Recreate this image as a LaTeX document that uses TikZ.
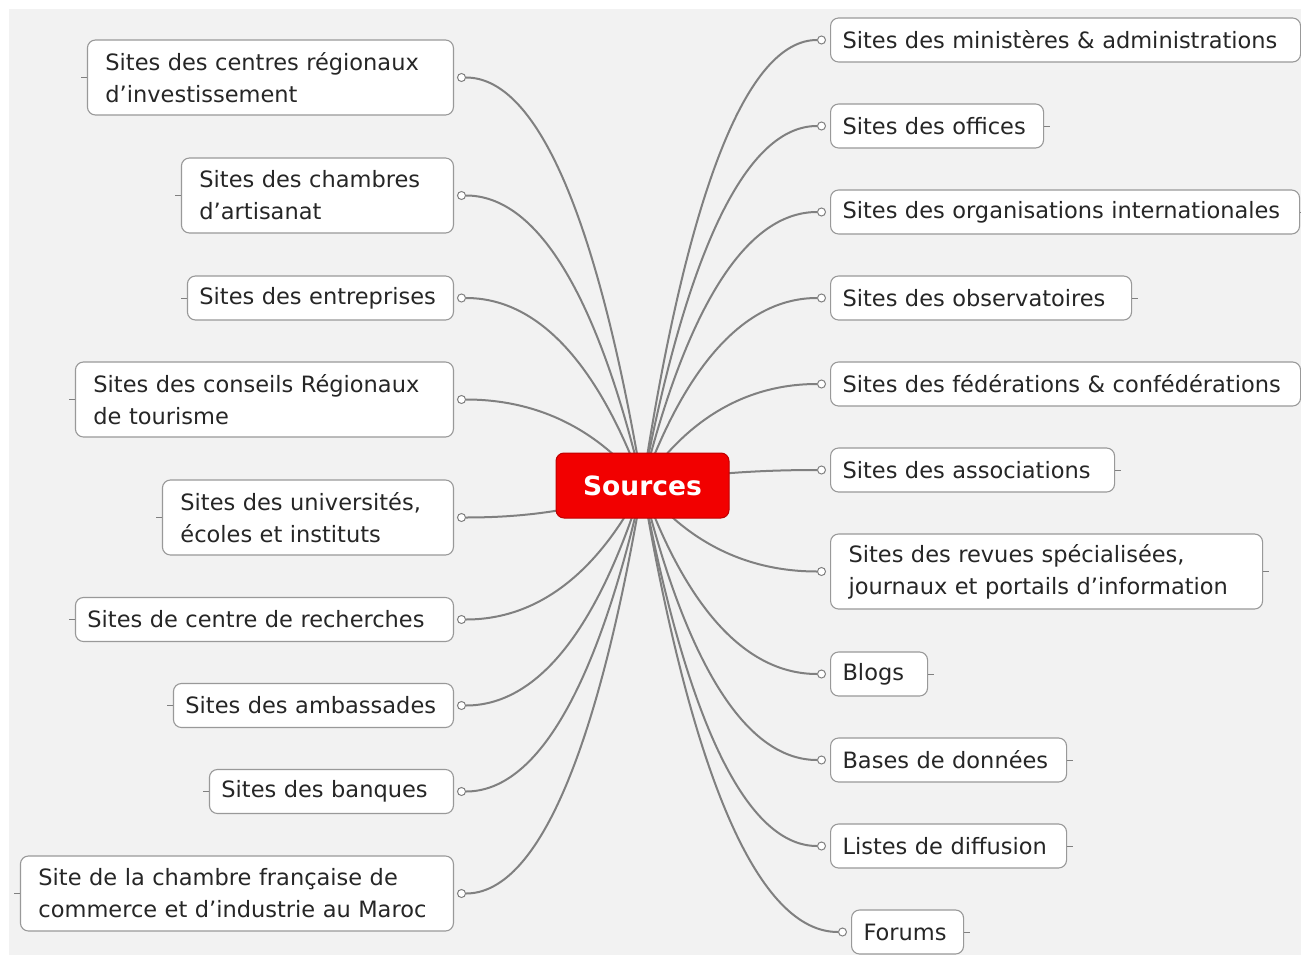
\documentclass[tikz,border=0pt]{standalone}
\usepackage{fontspec}
\setmainfont{DejaVu Sans}
\usetikzlibrary{positioning,calc,backgrounds}

\begin{document}
\begin{tikzpicture}[x=1pt,y=-1pt]
\tikzstyle{topic}=[rectangle, rounded corners=8pt, draw=black!40, fill=white, line width=1.1pt, inner xsep=12pt, inner ysep=0pt, minimum height=44pt, align=left, text=black!85, font=\fontsize{22.5}{32}\selectfont]
\tikzstyle{topictwo}=[topic, inner xsep=18pt, minimum height=75pt]
\tikzstyle{knob}=[circle, draw=black!50, fill=white, line width=1pt, inner sep=0pt, minimum size=8pt]
\tikzstyle{tick}=[draw=black!50, line width=0.8pt]
\tikzstyle{connect}=[draw=black!50, line width=2pt, to path={.. controls ($(\tikztostart)!0.667!(\tikztostart |- \tikztotarget) + 0.253*(\tikztotarget) - 0.253*(\tikztostart |- \tikztotarget)$) and ($(\tikztotarget)!0.413!(\tikztostart |- \tikztotarget)$) .. (\tikztotarget)}]

\useasboundingbox (0,0) rectangle (1301,955);

  \node[rectangle, rounded corners=8pt, fill=red!95!black, draw=red!75!black, line width=1pt, minimum width=173pt, minimum height=65pt, text=white, font=\fontsize{26.5}{30}\selectfont\bfseries] (src) at (642.5,485.5) {Sources};

  % left side
  \node[topictwo, anchor=east, text width=330pt] (l1) at (454,77.5) {Sites des centres régionaux\\d'investissement};
  \node[topictwo, anchor=east, text width=236pt] (l2) at (454,195.5) {Sites des chambres\\d'artisanat};
  \node[topic, anchor=east, text width=242pt] (l3) at (454,298) {Sites des entreprises};
  \node[topictwo, anchor=east, text width=342pt] (l4) at (454,399.5) {Sites des conseils Régionaux\\de tourisme};
  \node[topictwo, anchor=east, text width=255pt] (l5) at (454,517.5) {Sites des universités,\\écoles et instituts};
  \node[topic, anchor=east, text width=354pt] (l6) at (454,619.5) {Sites de centre de recherches};
  \node[topic, anchor=east, text width=256pt] (l7) at (454,705.5) {Sites des ambassades};
  \node[topic, anchor=east, text width=220pt] (l8) at (454,791.5) {Sites des banques};
  \node[topictwo, anchor=east, text width=397pt] (l9) at (454,893.5) {Site de la chambre française de\\commerce et d’industrie au Maroc};

  % right side
  \node[topic, anchor=west, text width=446pt] (r1) at (830,40) {Sites des ministères \& administrations};
  \node[topic, anchor=west, text width=189pt] (r2) at (830,126) {Sites des offices};
  \node[topic, anchor=west, text width=445pt] (r3) at (830,212) {Sites des organisations internationales};
  \node[topic, anchor=west, text width=277pt] (r4) at (830,298) {Sites des observatoires};
  \node[topic, anchor=west, text width=446pt] (r5) at (830,384) {Sites des fédérations \& confédérations};
  \node[topic, anchor=west, text width=260pt] (r6) at (830,470) {Sites des associations};
  \node[topictwo, anchor=west, text width=396pt] (r7) at (830,571.5) {Sites des revues spécialisées,\\journaux et portails d'information};
  \node[topic, anchor=west, text width=73pt] (r8) at (830,674) {Blogs};
  \node[topic, anchor=west, text width=212pt] (r9) at (830,760) {Bases de données};
  \node[topic, anchor=west, text width=212pt] (r10) at (830,846) {Listes de diffusion};
  \node[topic, anchor=west, text width=88pt] (r11) at (851,932) {Forums};

  % knobs
  \node[knob, right=3pt of l1] (cl1) {};
  \node[knob, right=3pt of l2] (cl2) {};
  \node[knob, right=3pt of l3] (cl3) {};
  \node[knob, right=3pt of l4] (cl4) {};
  \node[knob, right=3pt of l5] (cl5) {};
  \node[knob, right=3pt of l6] (cl6) {};
  \node[knob, right=3pt of l7] (cl7) {};
  \node[knob, right=3pt of l8] (cl8) {};
  \node[knob, right=3pt of l9] (cl9) {};
  \node[knob, left=4pt of r1] (cr1) {};
  \node[knob, left=4pt of r2] (cr2) {};
  \node[knob, left=4pt of r3] (cr3) {};
  \node[knob, left=4pt of r4] (cr4) {};
  \node[knob, left=4pt of r5] (cr5) {};
  \node[knob, left=4pt of r6] (cr6) {};
  \node[knob, left=4pt of r7] (cr7) {};
  \node[knob, left=4pt of r8] (cr8) {};
  \node[knob, left=4pt of r9] (cr9) {};
  \node[knob, left=4pt of r10] (cr10) {};
  \node[knob, left=4pt of r11] (cr11) {};

  % ticks
  \foreach \n in {l1,l2,l3,l4,l5,l6,l7,l8,l9}
    \draw[tick] (\n.west) -- ++(-6,0);
  \foreach \n in {r1,r2,r3,r4,r5,r6,r7,r8,r9,r10,r11}
    \draw[tick] (\n.east) -- ++(6,0);

  \begin{scope}[on background layer]
  \fill[white] (0,0) rectangle (1301,955);
  \fill[black!5] (9,9) rectangle (1301,955);
  \path (src.center) edge[connect] (cl1);
  \path (src.center) edge[connect] (cl2);
  \path (src.center) edge[connect] (cl3);
  \path (src.center) edge[connect] (cl4);
  \path (src.center) edge[connect] (cl5);
  \path (src.center) edge[connect] (cl6);
  \path (src.center) edge[connect] (cl7);
  \path (src.center) edge[connect] (cl8);
  \path (src.center) edge[connect] (cl9);
  \path (src.center) edge[connect] (cr1);
  \path (src.center) edge[connect] (cr2);
  \path (src.center) edge[connect] (cr3);
  \path (src.center) edge[connect] (cr4);
  \path (src.center) edge[connect] (cr5);
  \path (src.center) edge[connect] (cr6);
  \path (src.center) edge[connect] (cr7);
  \path (src.center) edge[connect] (cr8);
  \path (src.center) edge[connect] (cr9);
  \path (src.center) edge[connect] (cr10);
  \path (src.center) edge[connect] (cr11);
  \end{scope}
\end{tikzpicture}
\end{document}
